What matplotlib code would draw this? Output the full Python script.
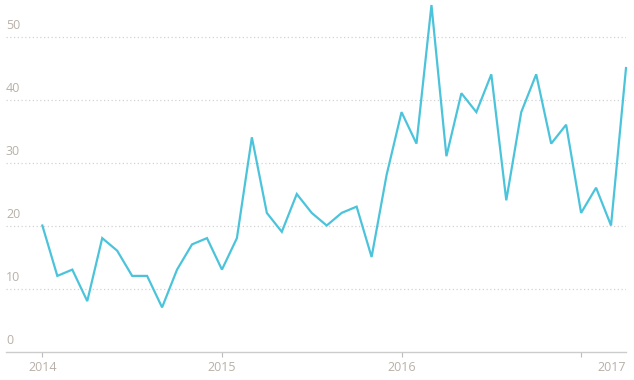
import matplotlib
matplotlib.use('Agg')
import matplotlib.pyplot as plt
import matplotlib.transforms as mtransforms

# monthly values, Jan 2014 .. Apr 2017
months = list(range(40))
values = [20, 12, 13, 8, 18, 16, 12, 12, 7, 13, 17, 18,
          13, 18, 34, 22, 19, 25, 22, 20, 22, 23, 15, 28,
          38, 33, 55, 31, 41, 38, 44, 24, 38, 44, 33, 36,
          22, 26, 20, 45]
year_ticks = [0, 12, 24, 36]
year_labels = ['2014', '2015', '2016', '2017']
y_ticks = [0, 10, 20, 30, 40, 50]

plt.rcParams['font.family'] = ['Open Sans', 'DejaVu Sans']

fig = plt.figure(figsize=(6.34, 3.8), dpi=100)
ax = fig.add_axes([6 / 634, 28.5 / 380, 620 / 634, 351.5 / 380])

ax.plot(months, values, color='#4bc4db', lw=1.6, solid_joinstyle='miter', clip_on=False)

ax.set_xlim(-2.43, 39.0)
ax.set_ylim(0, 55.8)

# grid
ax.set_yticks(y_ticks[1:])
ax.yaxis.grid(True, color='#d2d2d2', linestyle=(0, (1, 2)), lw=0.9)
ax.tick_params(axis='y', left=False, labelleft=False)
for v in y_ticks:
    ax.annotate(str(v), xy=(0, v), xycoords=('axes fraction', 'data'),
                xytext=(0, 3.5), textcoords='offset points',
                ha='left', va='bottom', fontsize=9, color='#b8b0a8')

for s in ['top', 'left', 'right']:
    ax.spines[s].set_visible(False)
ax.spines['bottom'].set_color('#cccccc')
ax.spines['bottom'].set_linewidth(1)

ax.set_xticks(year_ticks)
ax.set_xticklabels(year_labels)
ax.tick_params(axis='x', length=3.6, width=0.8, color='#bbbbbb', pad=3,
               labelsize=9, labelcolor='#b8b0a8')

# last year label sits flush with the right end of the axis
last = ax.get_xticklabels()[-1]
last.set_horizontalalignment('right')
last.set_transform(last.get_transform() + mtransforms.ScaledTranslation(45 / 100, 0, fig.dpi_scale_trans))

fig.savefig('out.png', dpi=100)
